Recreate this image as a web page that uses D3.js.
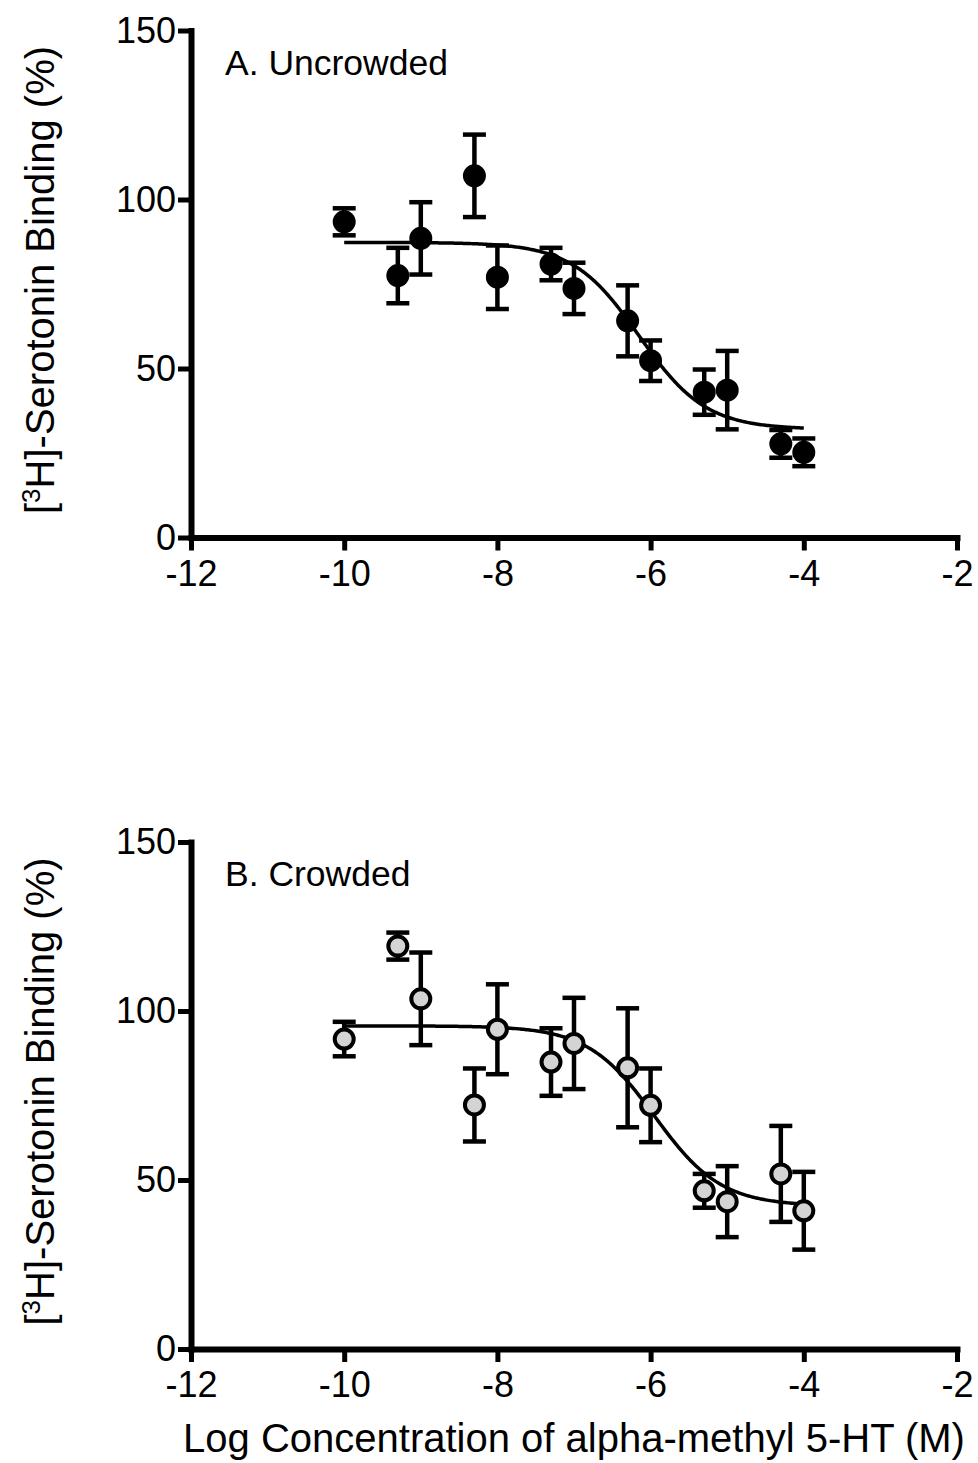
<!DOCTYPE html>
<html>
<head>
<meta charset="utf-8">
<script src="https://cdn.jsdelivr.net/npm/d3@7"></script>
<style>
  html, body { margin: 0; padding: 0; background: #fff; }
  svg { display: block; }
  text { font-family: "Liberation Sans", Arial, Helvetica, sans-serif; fill: #000; }
</style>
</head>
<body>
<svg id="chart" width="978" height="1463"></svg>
<script>
// Log concentration of alpha-methyl 5-HT (M) at each measured point
const logConc = [-10, -9.3, -9, -8.3, -8, -7.3, -7, -6.3, -6, -5.3, -5, -4.3, -4];

// Panel A: uncrowded — mean [3H]-serotonin binding (%) and SEM
const uncrowdedMean = [93.4, 77.5, 88.5, 107.0, 77.0, 80.9, 73.7, 64.1, 52.3, 43.0, 43.6, 27.7, 25.2];
const uncrowdedSem  = [4.0, 8.2, 10.7, 12.2, 9.4, 4.8, 7.6, 10.5, 6.0, 6.7, 11.6, 4.1, 4.1];

// Panel B: crowded — mean [3H]-serotonin binding (%) and SEM
const crowdedMean = [91.7, 119.2, 103.6, 72.2, 94.6, 84.9, 90.4, 83.2, 72.1, 46.8, 43.6, 51.8, 40.9];
const crowdedSem  = [5.1, 4.0, 13.7, 10.8, 13.3, 10.0, 13.5, 17.6, 10.9, 5.0, 10.5, 14.2, 11.5];

// One-site competition fit parameters (top, bottom, logIC50, Hill slope)
const uncrowdedFit = [87.3, 32.0, -6.15, -1.0];
const crowdedFit   = [95.6, 42.3, -5.95, -1.0];

// Axis ticks
const xTicks = [-12, -10, -8, -6, -4, -2];
const yTicks = [0, 50, 100, 150];

const svg = d3.select("#chart");

const left = 191, right = 957;
const x = d3.scaleLinear().domain([-12, -2]).range([left, right]);

const panels = [
  { title: "A. Uncrowded", top: 30.5, bottom: 537.5, mean: uncrowdedMean, sem: uncrowdedSem,
    fit: uncrowdedFit, fill: "#000000" },
  { title: "B. Crowded", top: 842, bottom: 1349, mean: crowdedMean, sem: crowdedSem,
    fit: crowdedFit, fill: "#d4d4d4" }
];

function sigmoid(p, v) {
  const [top, bottom, logIC50, hill] = p;
  return bottom + (top - bottom) / (1 + Math.pow(10, (logIC50 - v) * hill));
}

panels.forEach(pn => {
  const y = d3.scaleLinear().domain([0, 150]).range([pn.bottom, pn.top]);
  const g = svg.append("g");

  // x axis
  const xAxis = g.append("g")
    .attr("transform", `translate(0,${pn.bottom})`)
    .call(d3.axisBottom(x).tickValues(xTicks).tickSize(13).tickSizeOuter(0).tickPadding(9.5)
      .tickFormat(d3.format("d")));
  // y axis
  const yAxis = g.append("g")
    .attr("transform", `translate(${left},0)`)
    .call(d3.axisLeft(y).tickValues(yTicks).tickSize(13).tickSizeOuter(0).tickPadding(2)
      .tickFormat(d3.format("d")));

  [xAxis, yAxis].forEach(ax => {
    ax.select(".domain").attr("stroke", "#000").attr("stroke-width", 6).attr("stroke-linecap", "square");
    ax.selectAll(".tick line").attr("stroke", "#000").attr("stroke-width", 5);
    ax.selectAll(".tick text").attr("font-size", 36).attr("fill", "#000")
      .style("font-family", '"Liberation Sans", Arial, sans-serif');
  });
  xAxis.selectAll(".tick text").text(d => d < 0 ? "-" + Math.abs(d) : d);

  // panel title
  g.append("text")
    .attr("x", left + 34)
    .attr("y", pn.top + 44)
    .attr("font-size", 35.5)
    .text(pn.title);

  // y axis title
  const yt = g.append("text")
    .attr("transform", `translate(54,${(pn.top + pn.bottom) / 2 - 4}) rotate(-90)`)
    .attr("text-anchor", "middle")
    .attr("font-size", 40);
  yt.append("tspan").text("[");
  yt.append("tspan").attr("font-size", 26).attr("dy", -14).text("3");
  yt.append("tspan").attr("dy", 14).text("H]-Serotonin Binding (%)");

  // fitted curve
  const curveX = d3.range(-10, -4 + 1e-9, 0.02);
  const line = d3.line().x(d => x(d)).y(d => y(sigmoid(pn.fit, d)));
  g.append("path")
    .datum(curveX)
    .attr("d", line)
    .attr("fill", "none")
    .attr("stroke", "#000")
    .attr("stroke-width", 3.5);

  const data = logConc.map((c, k) => ({ c, m: pn.mean[k], s: pn.sem[k] }));

  // error bars
  const eb = g.append("g").attr("stroke", "#000").attr("stroke-width", 4.5);
  const capHalf = 11.5;
  data.forEach(d => {
    eb.append("line").attr("x1", x(d.c)).attr("x2", x(d.c))
      .attr("y1", y(d.m + d.s)).attr("y2", y(d.m - d.s));
    [d.m + d.s, d.m - d.s].forEach(v => {
      eb.append("line").attr("x1", x(d.c) - capHalf).attr("x2", x(d.c) + capHalf)
        .attr("y1", y(v)).attr("y2", y(v));
    });
  });

  // points
  g.append("g").selectAll("circle")
    .data(data)
    .join("circle")
    .attr("cx", d => x(d.c))
    .attr("cy", d => y(d.m))
    .attr("r", 9.5)
    .attr("fill", pn.fill)
    .attr("stroke", "#000")
    .attr("stroke-width", 4);
});

// x axis title
svg.append("text")
  .attr("x", (left + right) / 2)
  .attr("y", 1452)
  .attr("text-anchor", "middle")
  .attr("font-size", 40)
  .text("Log Concentration of alpha-methyl 5-HT (M)");
</script>
</body>
</html>
